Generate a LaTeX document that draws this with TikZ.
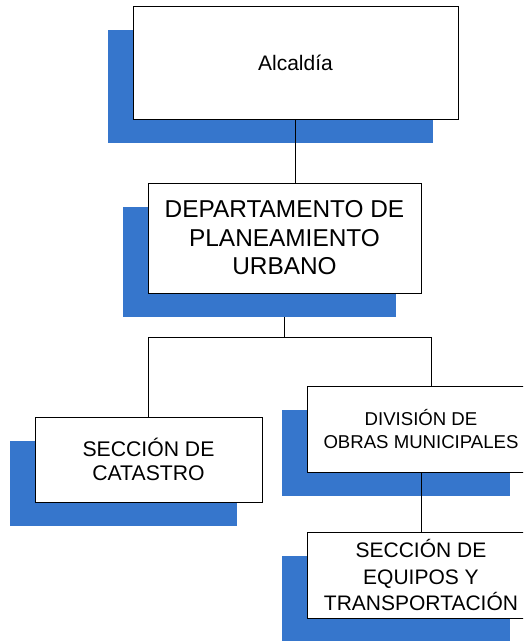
\documentclass[tikz,border=0pt]{standalone}
\usepackage{fontspec}
\setmainfont{Liberation Sans}
\usepackage{xcolor}
\usepackage{tikz}
\usetikzlibrary{backgrounds}

\definecolor{sombra}{RGB}{54,118,204}

\tikzset{
	caja/.style={draw=black, line width=0.8pt, fill=white, align=center, inner sep=2pt},
	linea/.style={draw=black, line width=0.9pt}
}

\begin{document}
\begin{tikzpicture}[x=1pt,y=-1pt]
			\useasboundingbox (0,0) rectangle (523,641);
			\clip (0,0) rectangle (523,641);
			
			\node[caja, minimum width=325pt, minimum height=113pt, font=\fontsize{21}{24}\selectfont] (alc) at (295.5,62.5) {Alcaldía};
			\node[caja, minimum width=273pt, minimum height=110pt, font=\fontsize{24.4}{28.5}\selectfont] (dep) at (284.5,238) {DEPARTAMENTO DE\\PLANEAMIENTO\\URBANO};
			\node[caja, minimum width=227pt, minimum height=85pt, font=\fontsize{21.2}{24}\selectfont] (cat) at (148.5,459.5) {SECCIÓN DE\\CATASTRO};
			\node[caja, minimum width=228pt, minimum height=86pt, font=\fontsize{18.6}{22.7}\selectfont] (div) at (421,429) {DIVISIÓN DE\\OBRAS MUNICIPALES};
			\node[caja, minimum width=228pt, minimum height=86pt, font=\fontsize{21}{26.5}\selectfont] (equ) at (421,575) {SECCIÓN DE\\EQUIPOS Y\\TRANSPORTACIÓN};
			
			% conectores y sombras
			\coordinate (bus) at (284.5,337.5);
			\begin{pgfonlayer}{background}
				\draw[linea] (dep.south) -- (bus);
				\draw[linea] (cat.north) |- (bus) -| ([xshift=10pt]div.north);
				\foreach \n in {alc,dep,cat,div,equ}{
					\fill[sombra] ([shift={(-25,24)}]\n.north west) rectangle ([shift={(-25,24)}]\n.south east);
				}
			\end{pgfonlayer}
			\draw[linea] (alc.south) -- (alc.south |- dep.north);
			\draw[linea] (div.south) -- (equ.north);
		\end{tikzpicture}
\end{document}
